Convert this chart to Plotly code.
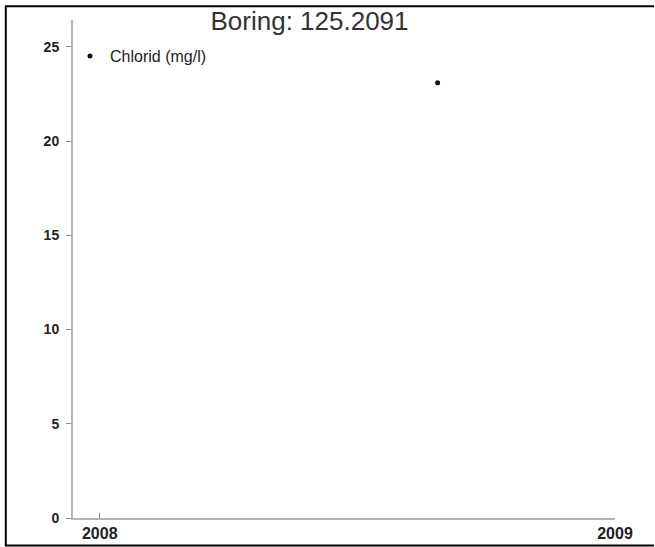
import plotly.graph_objects as go

# Measurement series
dates = ["2008-08-28"]
chlorid = [23.1]
series_name = "Chlorid (mg/l)"
title_text = "Boring: 125.2091"

# Axis settings
x_range = ["2007-12-13", "2009-01-01"]
y_range = [0, 26.43]
y_ticks = [0, 5, 10, 15, 20, 25]

W, H = 655, 547
ml, mr, mt, mb = 73, 40, 20, 29
pw, ph = W - ml - mr, H - mt - mb


def px_to_paper_x(px):
    return (px - ml) / pw


def px_to_paper_y(py):
    return (H - mb - py) / ph


fig = go.Figure()
fig.add_trace(go.Scatter(
    x=dates, y=chlorid, mode="markers", name=series_name,
    marker=dict(color="#111111", size=5),
    showlegend=True,
))

axis_line = dict(showline=True, linecolor="#b4b4b4", linewidth=2,
                 showgrid=False, zeroline=False, tickcolor="#8a8a8a",
                 tickwidth=1, ticklen=5, automargin=False)

fig.update_layout(
    width=W, height=H,
    margin=dict(l=ml, r=mr, t=mt, b=mb, autoexpand=False),
    paper_bgcolor="white", plot_bgcolor="white",
    title=dict(text=title_text, x=309.5 / W, xanchor="center", xref="container",
               y=1 - 21 / H, yanchor="middle", yref="container",
               font=dict(family="Liberation Sans, Arial", size=26, color="#333333")),
    xaxis=dict(range=x_range, type="date", tick0="2008-01-01", dtick="M12",
               tickformat="%Y", ticks="inside", ticklabelstandoff=0,
               tickfont=dict(family="Liberation Sans, Arial", size=16,
                             color="#222222", weight="bold"),
               **axis_line),
    yaxis=dict(range=y_range, tickvals=y_ticks, ticks="outside",
               ticklabelstandoff=4,
               tickfont=dict(family="Liberation Sans, Arial", size=14,
                             color="#222222", weight="bold"),
               **axis_line),
    legend=dict(x=px_to_paper_x(70), y=px_to_paper_y(39), xanchor="left",
                yanchor="top", bgcolor="rgba(0,0,0,0)",
                font=dict(family="Liberation Sans, Arial", size=16, color="#222222"),
                itemwidth=30),
    showlegend=True,
)

# Open frame (top, left, bottom) drawn as one path in paper coordinates
lx, rx = px_to_paper_x(5.8), px_to_paper_x(W - 1)
ty, by = px_to_paper_y(6.2), px_to_paper_y(545.5)
frame_path = f"M {rx},{ty} L {lx},{ty} L {lx},{by} L {rx},{by}"
fig.add_shape(type="path", xref="paper", yref="paper", path=frame_path,
              line=dict(color="black", width=2), fillcolor="rgba(0,0,0,0)",
              layer="above")

fig.write_html("out.html")
